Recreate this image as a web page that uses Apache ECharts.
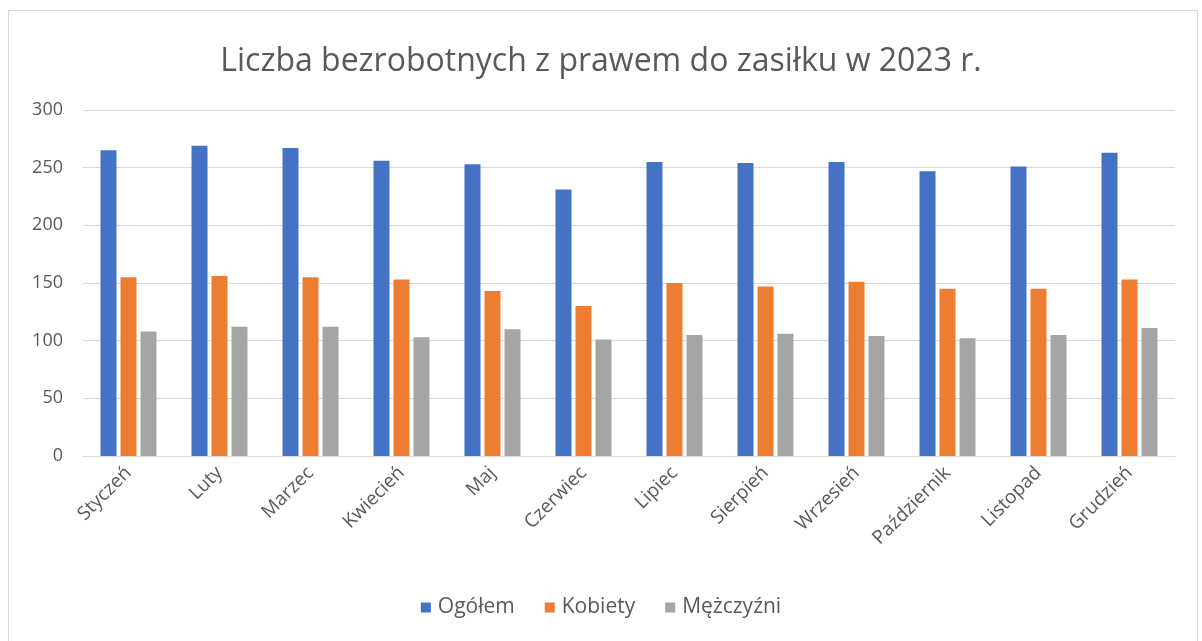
<html>
<head>
    <meta charset="utf-8">
    <script src="https://cdn.jsdelivr.net/npm/echarts@6/dist/echarts.min.js"></script>
</head>
<body style="margin: 0; background: #fff">
    <div id="frame" style="position: absolute; left: 8px; top: 10px; width: 1190px; height: 640px; border: 1px solid #d9d9d9; box-sizing: border-box"></div>
    <div id="container" style="position: absolute; left: 0; top: 0; width: 1202px; height: 641px"></div>
    <script>
        // dane
        var months = ['Styczeń', 'Luty', 'Marzec', 'Kwiecień', 'Maj', 'Czerwiec', 'Lipiec', 'Sierpień', 'Wrzesień', 'Październik', 'Listopad', 'Grudzień'];
        var ogolem = [265, 269, 267, 256, 253, 231, 255, 254, 255, 247, 251, 263];
        var kobiety = [155, 156, 155, 153, 143, 130, 150, 147, 151, 145, 145, 153];
        var mezczyzni = [108, 112, 112, 103, 110, 101, 105, 106, 104, 102, 105, 111];
        var yTicks = [0, 50, 100, 150, 200, 250, 300];

        var dom = document.getElementById("container");
        var myChart = echarts.init(dom);
        var txt = '#595959';
        var font = 'Open Sans';

        function bar(name, data, color) {
            return {
                name: name,
                type: 'bar',
                data: data,
                barWidth: 16,
                barGap: '25%',
                itemStyle: { color: color },
                animation: false
            };
        }

        var option = {
            title: {
                text: 'Liczba bezrobotnych z prawem do zasiłku w 2023 r.',
                left: 'center',
                top: 41,
                textStyle: { color: txt, fontSize: 32, fontWeight: 'normal', fontFamily: font }
            },
            legend: {
                bottom: 18,
                left: 'center',
                itemWidth: 10,
                itemHeight: 10,
                itemGap: 30,
                icon: 'rect',
                textStyle: { color: txt, fontSize: 21, fontFamily: font, padding: [0, 0, 0, 2] },
                data: ['Ogółem', 'Kobiety', 'Mężczyźni']
            },
            grid: { left: 83, right: 27, top: 110, bottom: 185, containLabel: false },
            xAxis: {
                type: 'category',
                data: months,
                axisTick: { show: false },
                axisLine: { lineStyle: { color: '#d9d9d9', width: 1 } },
                axisLabel: { color: txt, fontSize: 19, fontFamily: font, rotate: 45, margin: 14, interval: 0 }
            },
            yAxis: {
                type: 'value',
                min: yTicks[0],
                max: yTicks[yTicks.length - 1],
                interval: 50,
                axisLine: { show: false },
                axisTick: { show: false },
                splitLine: { lineStyle: { color: '#d9d9d9', width: 1 } },
                axisLabel: { color: txt, fontSize: 18, fontFamily: font, margin: 20 }
            },
            series: [
                bar('Ogółem', ogolem, '#4472C4'),
                bar('Kobiety', kobiety, '#ED7D31'),
                bar('Mężczyźni', mezczyzni, '#A5A5A5')
            ]
        };
        myChart.setOption(option);
    </script>
</body>
</html>
